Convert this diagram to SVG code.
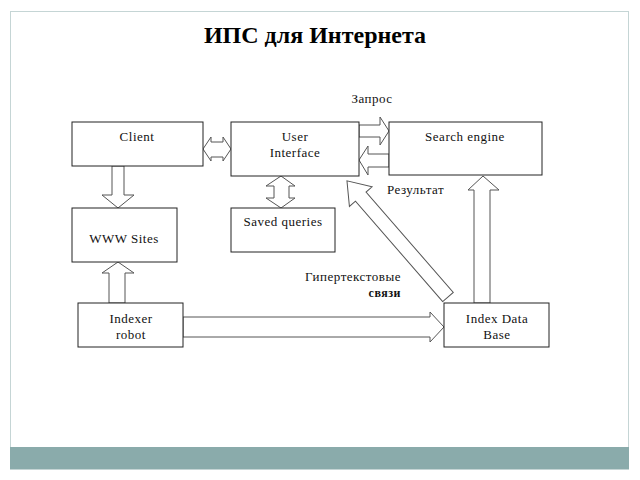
<svg xmlns="http://www.w3.org/2000/svg" width="640" height="480" viewBox="0 0 640 480">
<style>
.box{fill:#fff;stroke:#222;stroke-width:1}
.arr{fill:#fff;stroke:#555;stroke-width:1;stroke-linejoin:miter}
.t{font-family:"Liberation Serif","DejaVu Serif",serif;font-size:13px;fill:#111;letter-spacing:0.5px}
.c{text-anchor:middle}
</style>
<rect x="0" y="0" width="640" height="480" fill="#fff"/>
<rect x="10.5" y="11.5" width="618" height="458" fill="#fff" stroke="#c5d5d5"/>
<rect x="10" y="447" width="619" height="22" fill="#8aabab"/>
<text x="315" y="43" class="c" style="font-family:'Liberation Serif','DejaVu Serif',serif;font-size:24px;font-weight:bold;fill:#000">ИПС для Интернета</text>

<g id="connectors">
<polygon class="arr" points="203,149 211,137 211,142 223,142 223,137 231,149 223,161 223,157 211,157 211,161"/>
<polygon class="arr" points="112,166 124,166 124,195 134,195 118,208 102,195 112,195"/>
<polygon class="arr" points="281,176 295,186 289,186 289,198 295,198 281,208 266,198 274,198 274,186 266,186"/>
<polygon class="arr" points="118,262 134,273 125,273 125,303 109,303 109,273 102,273"/>
<polygon class="arr" points="183,317 430,317 430,312 444,327 430,342 430,337 183,337"/>
<polygon class="arr" points="483,176 499,190 490,190 490,303 474,303 474,190 468,190"/>
<polygon class="arr" points="359,125 380,125 380,117 389,131 380,145 380,137 359,137"/>
<polygon class="arr" points="389,154 368,154 368,146 359,160 368,175 368,167 389,167"/>
<polygon class="arr" transform="translate(448,297) rotate(229)" points="0,-7 133,-7 133,-15 154,0 133,15 133,7 0,7"/>
</g>

<g id="client"><rect class="box" x="72" y="122" width="131" height="44"/><text x="137" y="141" class="t c">Client</text></g>
<g id="ui"><rect class="box" x="231" y="122" width="128" height="54"/><text x="295" y="141" class="t c">User</text><text x="295" y="157" class="t c">Interface</text></g>
<g id="se"><rect class="box" x="389" y="122" width="153" height="53"/><text x="465" y="141" class="t c">Search engine</text></g>
<g id="www"><rect class="box" x="72" y="208" width="105" height="54"/><text x="124" y="243" class="t c">WWW Sites</text></g>
<g id="saved"><rect class="box" x="231" y="208" width="104" height="44"/><text x="283" y="226" class="t c">Saved queries</text></g>
<g id="indexer"><rect class="box" x="78" y="303" width="105" height="44"/><text x="131" y="323" class="t c">Indexer</text><text x="131" y="339" class="t c">robot</text></g>
<g id="idb"><rect class="box" x="444" y="303" width="105" height="44"/><text x="497" y="323" class="t c">Index Data</text><text x="497" y="339" class="t c">Base</text></g>

<text x="372" y="103" class="t c">Запрос</text>
<text x="387" y="194" class="t">Результат</text>
<text x="401" y="281" class="t" style="text-anchor:end">Гипертекстовые</text>
<text x="401" y="297" class="t" style="text-anchor:end;font-weight:bold;font-size:12px">связи</text>
</svg>
